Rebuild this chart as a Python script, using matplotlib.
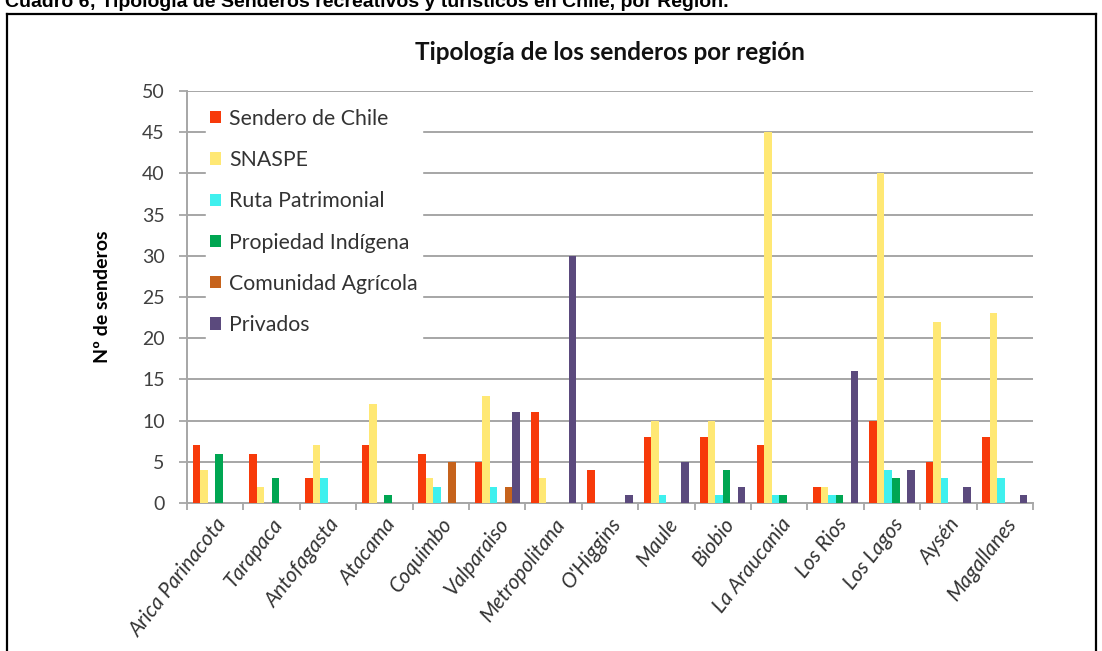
import numpy as np
import matplotlib
matplotlib.use('Agg')
import matplotlib.pyplot as plt
from matplotlib.lines import Line2D

plt.rcParams['font.family'] = ['Lato', 'DejaVu Sans']

regiones = ['Arica Parinacota', 'Tarapaca', 'Antofagasta', 'Atacama', 'Coquimbo',
            'Valparaiso', 'Metropolitana', "O'Higgins", 'Maule', 'Biobio',
            'La Araucania', 'Los Rios', 'Los Lagos', 'Aysén', 'Magallanes']

series = ['Sendero de Chile', 'SNASPE', 'Ruta Patrimonial', 'Propiedad Indígena',
          'Comunidad Agrícola', 'Privados']

sendero_chile = [7, 6, 3, 7, 6, 5, 11, 4, 8, 8, 7, 2, 10, 5, 8]
snaspe        = [4, 2, 7, 12, 3, 13, 3, 0, 10, 10, 45, 2, 40, 22, 23]
ruta_patrim   = [0, 0, 3, 0, 2, 2, 0, 0, 1, 1, 1, 1, 4, 3, 3]
prop_indig    = [6, 3, 0, 1, 0, 0, 0, 0, 0, 4, 1, 1, 3, 0, 0]
com_agricola  = [0, 0, 0, 0, 5, 2, 0, 0, 0, 0, 0, 0, 0, 0, 0]
privados      = [0, 0, 0, 0, 0, 11, 30, 1, 5, 2, 0, 16, 4, 2, 1]

valores = [sendero_chile, snaspe, ruta_patrim, prop_indig, com_agricola, privados]
colores = ['#F73A0A', '#FFE874', '#3FF0EE', '#00A652', '#C6631C', '#5B4A7D']

fig = plt.figure(figsize=(11.02, 6.51), dpi=100)
W, H = 1102, 651

# marco negro alrededor del grafico
fig.add_artist(Line2D([7/W, 7/W], [0, 1 - 14/H], color='black', lw=1.6))
fig.add_artist(Line2D([7/W, 1096/W], [1 - 14/H, 1 - 14/H], color='black', lw=1.6))
fig.add_artist(Line2D([1096/W, 1096/W], [0, 1 - 14/H], color='black', lw=1.6))

# titulo del cuadro (cortado arriba, como en el original)
fig.text(5/W, 1 - 7/H, 'Cuadro 6; Tipología de Senderos recreativos y turísticos en Chile, por Región.',
         family='Liberation Sans', fontweight='bold', fontsize=14, va='baseline', ha='left')

ax = fig.add_axes([187/W, 148/H, (1033-187)/W, (560-148)/H])

x = np.arange(len(regiones))
ancho = 0.8 / 6
for j, (vals, col) in enumerate(zip(valores, colores)):
    ax.bar(x - 0.4 + (j + 0.5) * ancho, vals, ancho, color=col, label=series[j], zorder=3)

ax.set_xlim(-0.5, len(regiones) - 0.5)
ax.set_ylim(0, 50)
ax.set_yticks(np.arange(0, 51, 5))
ax.grid(axis='y', color='#A6A6A6', lw=1.4, zorder=0)

ax.set_xticks(np.arange(-0.5, len(regiones)), labels=[])
ax.set_xticks(x, minor=True)
ax.set_xticklabels(regiones, minor=True, rotation=52, ha='right', rotation_mode='anchor',
                   style='italic', fontsize=15, color='#333333')
ax.tick_params(axis='x', which='minor', length=0, pad=8)
ax.tick_params(axis='x', which='major', length=5, color='#A6A6A6', width=1.3)
ax.tick_params(axis='y', length=6, color='#A6A6A6', width=1.3, labelsize=14,
               labelcolor='#404040', pad=10)

for s in ['top', 'right']:
    ax.spines[s].set_visible(False)
for s in ['left', 'bottom']:
    ax.spines[s].set_color('#A6A6A6')
    ax.spines[s].set_linewidth(1.4)

ax.set_title('Tipología de los senderos por región', fontsize=17.5, fontweight='bold',
             pad=22, color='#111111')
ax.set_ylabel('Nº de senderos', fontsize=14, fontweight='bold', labelpad=22)

leg = ax.legend(loc='upper left', bbox_to_anchor=(0.01, 0.993), frameon=True,
                fontsize=15.3, handlelength=0.5, handleheight=0.5, handletextpad=0.4,
                labelspacing=1.0, borderpad=0.2, fancybox=False)
leg.get_frame().set_edgecolor('white')
leg.get_frame().set_facecolor('white')
leg.get_frame().set_alpha(1)
for t in leg.get_texts():
    t.set_color('#333333')

fig.savefig('out.png', dpi=100)
